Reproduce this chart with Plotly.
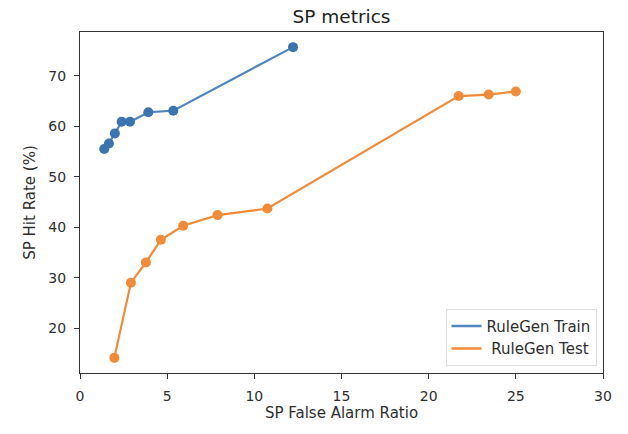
import plotly.graph_objects as go

train_far = [1.39, 1.66, 2.0, 2.39, 2.87, 3.92, 5.35, 12.22]
train_hit = [55.5, 56.6, 58.6, 60.9, 60.9, 62.8, 63.1, 75.7]
test_far = [1.97, 2.92, 3.78, 4.64, 5.92, 7.89, 10.75, 21.72, 23.44, 25.0]
test_hit = [14.1, 29.0, 33.0, 37.5, 40.3, 42.4, 43.7, 66.0, 66.3, 66.9]
x_ticks = [0, 5, 10, 15, 20, 25, 30]
y_ticks = [20, 30, 40, 50, 60, 70]

BLUE = "#3b74b0"
ORANGE = "#f18b38"
FONT = "DejaVu Sans"
TXT = "#2e2e2e"

fig = go.Figure()
fig.add_trace(go.Scatter(x=train_far, y=train_hit, mode="lines+markers",
                         line=dict(color="#4f86bf", width=2.2),
                         marker=dict(color=BLUE, size=10), showlegend=False))
fig.add_trace(go.Scatter(x=test_far, y=test_hit, mode="lines+markers",
                         line=dict(color=ORANGE, width=2.2),
                         marker=dict(color=ORANGE, size=10), showlegend=False))
fig.add_trace(go.Scatter(x=[None], y=[None], mode="lines", name="RuleGen Train",
                         line=dict(color="#4f86bf", width=2.5)))
fig.add_trace(go.Scatter(x=[None], y=[None], mode="lines", name=" RuleGen Test",
                         line=dict(color=ORANGE, width=2.5)))

axis_common = dict(showgrid=False, zeroline=False, showline=True, mirror=True,
                   linecolor="#333333", linewidth=1.3, ticks="outside", ticklen=5,
                   tickcolor="#333333", tickfont=dict(family=FONT, size=14, color=TXT))

fig.update_xaxes(range=[0, 30], tickvals=x_ticks, ticklabelstandoff=5,
                 title=dict(text="SP False Alarm Ratio", font=dict(family=FONT, size=15, color=TXT), standoff=4),
                 **axis_common)
fig.update_yaxes(range=[11.1, 78.7], tickvals=y_ticks, ticklabelstandoff=5,
                 title=dict(text="SP Hit Rate (%)", font=dict(family=FONT, size=15, color=TXT), standoff=8),
                 **axis_common)

fig.update_layout(
    width=628, height=434,
    margin=dict(l=80, r=24.5, t=32, b=60.7),
    paper_bgcolor="white", plot_bgcolor="white",
    title=dict(text="SP metrics", xref="paper", x=0.5, xanchor="center",
               y=0.963, yanchor="middle", pad=dict(t=0),
               font=dict(family=FONT, size=18.5, color="#222222")),
    legend=dict(x=0.9876, y=0.0214, xanchor="right", yanchor="bottom",
                bgcolor="white", bordercolor="#dddddd", borderwidth=1,
                font=dict(family=FONT, size=15, color=TXT)),
    showlegend=True,
)

fig.write_html("out.html", config={"displayModeBar": False},
               post_script="document.body.style.margin='0px';")
